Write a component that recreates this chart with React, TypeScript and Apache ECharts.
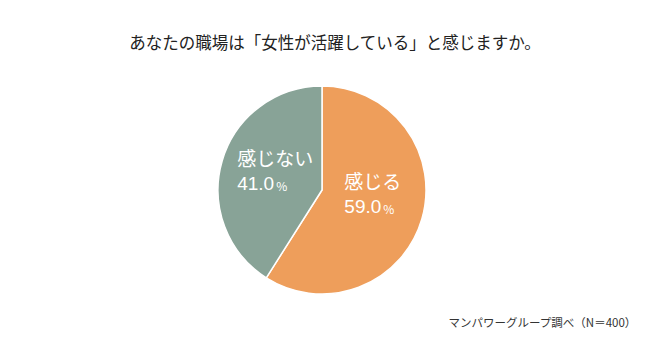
import React, { useEffect, useRef } from "react";
import * as echarts from "echarts";

const title = "あなたの職場は「女性が活躍している」と感じますか。";
const source = "マンパワーグループ調べ（N＝400）";
const categories = ["感じる", "感じない"];
const values = [59.0, 41.0];
const colors = ["#EE9E5B", "#88A397"];

export default function App() {
  const ref = useRef<HTMLDivElement>(null);
  useEffect(() => {
    document.body.style.margin = "0";
    if (!ref.current) return;
    const chart = echarts.init(ref.current, null, { renderer: "svg" });
    const font = "'Noto Sans CJK JP', 'Noto Sans', sans-serif";
    const numFont = "'Liberation Sans', Arial, sans-serif";
    const offsets = [
      [-2, -12],
      [6, -4],
    ];
    chart.setOption({
      animation: false,
      backgroundColor: "#ffffff",
      title: {
        text: title,
        left: 330,
        top: 29,
        textAlign: "center",
        textStyle: { fontSize: 16.5, fontWeight: "normal", color: "#222", fontFamily: font },
      },
      graphic: [
        {
          type: "text",
          right: 23,
          top: 316,
          style: { text: source, fontSize: 11.5, fill: "#333", fontFamily: font },
        },
      ],
      series: [
        {
          type: "pie",
          center: [322, 190],
          radius: 104,
          startAngle: 90,
          clockwise: true,
          label: {
            show: true,
            position: "inside",
            color: "#fff",
            fontFamily: font,
            formatter: (p: any) => `{n|${p.name}}\n{v|${p.value.toFixed(1)}}{p|%}`,
            rich: {
              n: { fontSize: 19, color: "#fff", align: "left", lineHeight: 26, fontFamily: font },
              v: { fontSize: 19, color: "#fff", align: "left", lineHeight: 26, fontFamily: numFont },
              p: { fontSize: 12, color: "#fff", align: "left", lineHeight: 26, fontFamily: font, padding: [4, 0, 0, 2] },
            },
          },
          labelLine: { show: false },
          itemStyle: { borderColor: "#fff", borderWidth: 1.5 },
          data: categories.map((c, i) => ({
            name: c,
            value: values[i],
            itemStyle: { color: colors[i] },
            label: { offset: offsets[i] },
          })),
        },
      ],
    });
    return () => chart.dispose();
  }, []);
  return <div ref={ref} style={{ width: 660, height: 358 }} />;
}
